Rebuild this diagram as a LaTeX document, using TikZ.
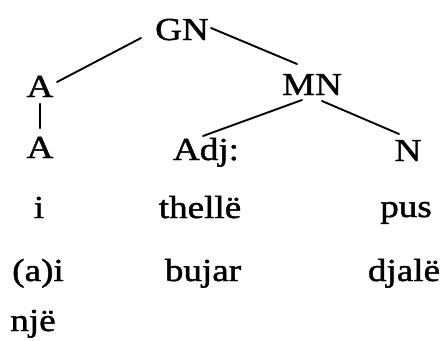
\documentclass[tikz,border=0pt]{standalone}
\usepackage{fontspec}
\setmainfont{Liberation Serif}[FakeStretch=1.16,FakeBold=1.3]
\begin{document}
\begin{tikzpicture}[x=1pt,y=-1pt,
  lbl/.style={anchor=base,inner sep=0pt,font=\fontsize{32}{38}\selectfont},
  edge/.style={line width=1.9pt,line cap=round}]
\useasboundingbox[fill=white] (0,0) rectangle (444,340);
\node[lbl] (GN) at (182,40) {GN};
\node[lbl] (A1) at (40,97) {A};
\node[lbl] (MN) at (312,95) {MN};
\node[lbl] (A2) at (40,158) {A};
\node[lbl] (Adj) at (206,160) {Adj:};
\node[lbl] (N) at (408,161) {N};
\node[lbl] (w1) at (39,218) {i};
\node[lbl] (w2) at (200,218) {thellë};
\node[lbl] (w3) at (406,217) {pus};
\node[lbl] (w4) at (38,281) {(a)i};
\node[lbl] (w5) at (203,281) {bujar};
\node[lbl] (w6) at (404,281) {djalë};
\node[lbl] (w7) at (33,331) {një};
\draw[edge] ([shift={(17,-15)}]A1.base) -- ([shift={(-41,-2)}]GN.base);
\draw[edge] ([shift={(29,-12)}]GN.base) -- ([shift={(-15,-31)}]MN.base);
\draw[edge] ([shift={(-10,5)}]MN.base) -- ([shift={(-3,-24)}]Adj.base);
\draw[edge] ([shift={(10,6)}]MN.base) -- ([shift={(-9,-27)}]N.base);
\draw[edge,line width=2.4pt] ([shift={(0,7)}]A1.base) -- ([shift={(0,-30)}]A2.base);
\end{tikzpicture}
\end{document}
